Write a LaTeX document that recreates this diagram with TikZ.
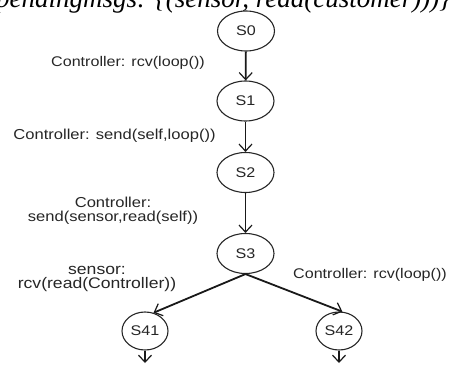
\documentclass[tikz,border=0pt]{standalone}
\usepackage{fontspec}
\setmainfont{Liberation Sans}
\newfontfamily\lblfont[FakeStretch=1.15]{Liberation Sans}
\newfontfamily\hdrfont{Liberation Serif}
\usetikzlibrary{arrows.meta,shapes.geometric}
\begin{document}
\begin{tikzpicture}[x=1pt,y=1pt,
  state/.style={ellipse,draw=black!85,line width=1.1pt,minimum width=57pt,minimum height=40pt,inner sep=0pt,
    font=\lblfont\fontsize{14}{14}\selectfont,text=black!85},
  small/.style={state,minimum width=46pt,minimum height=38pt},
  arr/.style={line width=1.8pt,draw=black!90,-{Straight Barb[length=7pt,width=13pt,line width=1.2pt]}},
  lbl/.style={font=\lblfont\fontsize{14}{14}\selectfont,text=black!85,inner sep=0pt,align=center}]
\useasboundingbox (0,0) rectangle (452,365);
\clip (0,0) rectangle (452,365);
\fill[white] (0,0) rectangle (452,365);
% clipped header line
\node[anchor=base west,inner sep=0pt,font=\hdrfont\itshape\fontsize{27}{27}\selectfont] (hdr) at (-4,357)
  {pendingmsgs: \{(sensor, read(customer)))\}};
% states
\node[state] (s0) at (246,334) {S0};
\node[state] (s1) at (245.5,264) {S1};
\node[state] (s2) at (245.5,192.5) {S2};
\node[state] (s3) at (245.5,111.5) {S3};
\node[small] (s41) at (145,34) {S41};
\node[small] (s42) at (339,34) {S42};
\coordinate (e41) at (145,2);
\coordinate (e42) at (339,2);
% transitions
\draw[arr] (s0) -- (s1);
\draw[arr] (s1) -- (s2);
\draw[arr] (s2) -- (s3);
\draw[arr] (s3.south) -- (s41.65);
\draw[arr] (s3.south) -- (s42.80);
\draw[arr] (s41.south) -- (e41);
\draw[arr] (s42.south) -- (e42);
% labels
\node[lbl] (l1) at (128,302) {Controller: rcv(loop())};
\node[lbl,font=\lblfont\fontsize{14.4}{14.4}\selectfont] (l2) at (114.5,229) {Controller: send(self,loop())};
\node[lbl,font=\lblfont\fontsize{14.4}{14}\selectfont] (l3) at (113,154) {Controller:\\send(sensor,read(self))};
\node[lbl,font=\lblfont\fontsize{15.3}{14}\selectfont] (l4) at (97,86) {sensor:\\rcv(read(Controller))};
\node[lbl] (l5) at (370,90) {Controller: rcv(loop())};
\end{tikzpicture}
\end{document}
